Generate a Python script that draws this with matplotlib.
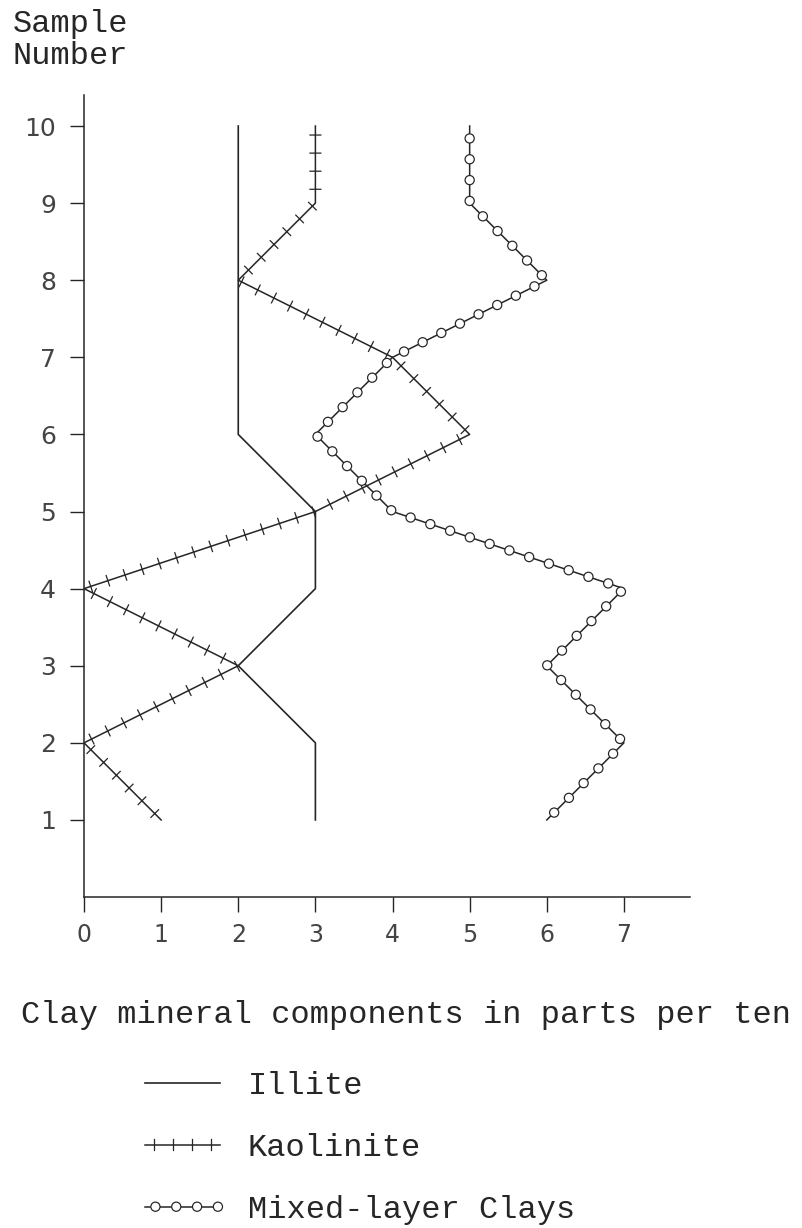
import numpy as np
import matplotlib
matplotlib.use("Agg")
import matplotlib.pyplot as plt
from matplotlib import patheffects
from matplotlib.path import Path
from matplotlib.transforms import Affine2D

# sample numbers (y) and parts per ten for each clay mineral (x)
samples = [1, 2, 3, 4, 5, 6, 7, 8, 9, 10]
illite = [3, 3, 2, 3, 3, 2, 2, 2, 2, 2]
kaolinite = [1, 0, 2, 0, 3, 5, 4, 2, 3, 3]
mixed_layer = [6, 7, 6, 7, 4, 3, 4, 6, 5, 5]

x_ticks = [0, 1, 2, 3, 4, 5, 6, 7]
y_ticks = [1, 2, 3, 4, 5, 6, 7, 8, 9, 10]

INK = "#262626"
MONO = "Liberation Mono"


class CircleStroke(patheffects.AbstractPathEffect):
    """draw the line, then small open circles spaced along it"""

    def __init__(self, spacing=15.0, radius=3.2, offset=(0, 0)):
        super().__init__(offset)
        self._spacing = spacing
        self._radius = radius

    def draw_path(self, renderer, gc, tpath, affine, rgbFace=None):
        renderer.draw_path(gc, tpath, affine, rgbFace)
        pts = affine.transform(tpath.vertices)
        step = renderer.points_to_pixels(self._spacing)
        rad = renderer.points_to_pixels(self._radius)
        seg = np.diff(pts, axis=0)
        cum = np.concatenate([[0], np.cumsum(np.hypot(seg[:, 0], seg[:, 1]))])
        if cum[-1] <= 0:
            return
        dist = np.arange(step * 0.5, cum[-1], step)
        xs = np.interp(dist, cum, pts[:, 0])
        ys = np.interp(dist, cum, pts[:, 1])
        gc0 = renderer.new_gc()
        gc0.copy_properties(gc)
        gc0.set_linewidth(gc.get_linewidth() * 0.8)
        circle = Path.unit_circle()
        for x, y in zip(xs, ys):
            tr = Affine2D().scale(rad).translate(x, y)
            renderer.draw_path(gc0, circle, tr, (1, 1, 1, 1))
        gc0.restore()


fig = plt.figure(figsize=(8.03, 12.28), dpi=100)
ax = fig.add_axes([0.1046, 0.2695, 0.755, 0.653])

ax.plot(illite, samples, color=INK, lw=1.2, label="Illite")
ax.plot(kaolinite, samples, color=INK, lw=1.1, label="Kaolinite",
        path_effects=[patheffects.Normal(),
                      patheffects.TickedStroke(spacing=13, angle=90, length=0.3, linewidth=0.9),
                      patheffects.TickedStroke(spacing=13, angle=-90, length=0.3, linewidth=0.9)])
ax.plot(mixed_layer, samples, color=INK, lw=1.1, label="Mixed-layer Clays",
        path_effects=[CircleStroke(spacing=15, radius=3.3)])

ax.set_xlim(0, 7.86)
ax.set_ylim(0, 10.4)
ax.spines["top"].set_visible(False)
ax.spines["right"].set_visible(False)
for s in ("left", "bottom"):
    ax.spines[s].set_color(INK)
    ax.spines[s].set_linewidth(1.1)

ax.set_xticks(x_ticks)
ax.set_yticks(y_ticks)
ax.set_xticklabels([str(v) for v in x_ticks])
ax.set_yticklabels([str(v) for v in y_ticks])
ax.tick_params(axis="x", direction="out", length=11, width=1, color=INK,
               pad=8, labelsize=17, labelcolor="#444444")
ax.tick_params(axis="y", direction="out", length=10, width=1, color=INK,
               pad=10, labelsize=18, labelcolor="#444444")

fig.text(13 / 803, 1 - 9 / 1228, "Sample\nNumber", family=MONO, fontsize=23,
         color=INK, ha="left", va="top", linespacing=1.1)
fig.text(21 / 803, 1 - 1015 / 1228, "Clay mineral components in parts per ten",
         family=MONO, fontsize=23, color=INK, ha="left", va="center")

fig.legend(loc="upper left", bbox_to_anchor=(145 / 803, 1 - 1071 / 1228),
           frameon=False, prop={"family": MONO, "size": 23},
           labelcolor=INK, handlelength=2.35, handletextpad=0.87,
           labelspacing=1.0, borderpad=0, borderaxespad=0)

fig.savefig("out.png", dpi=100)
